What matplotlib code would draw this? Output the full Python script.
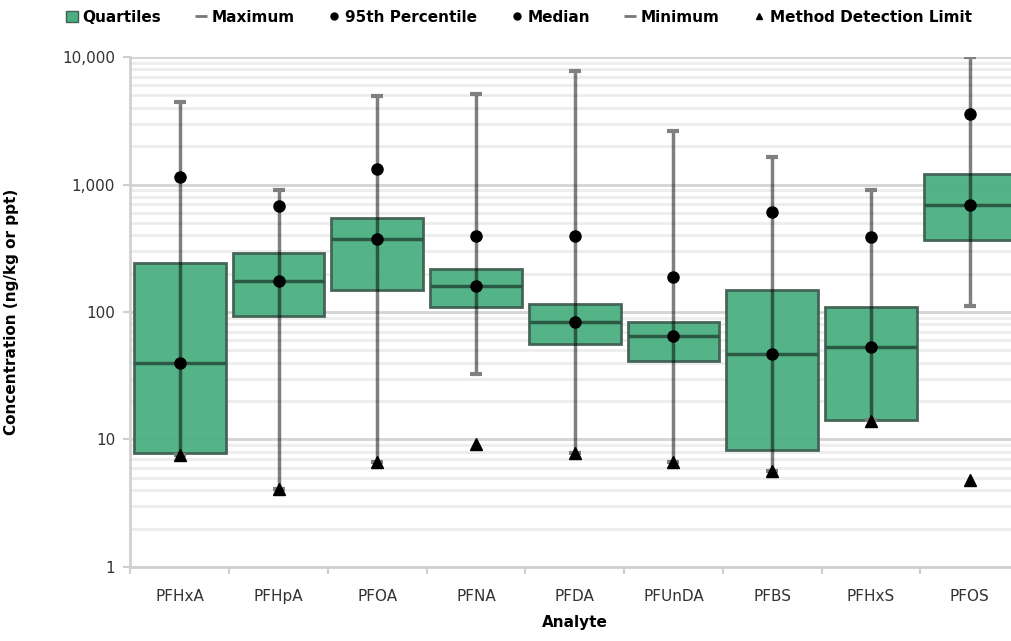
import matplotlib.pyplot as plt
from matplotlib.patches import Patch
from matplotlib.lines import Line2D
from matplotlib.ticker import FixedLocator, FuncFormatter, LogLocator, NullFormatter
import numpy as np

plt.rcParams['font.family'] = ['Liberation Sans Narrow', 'DejaVu Sans']

analytes = ['PFHxA', 'PFHpA', 'PFOA', 'PFNA', 'PFDA', 'PFUnDA', 'PFBS', 'PFHxS', 'PFOS']
maximum = [4440, 905, 4950, 5130, 7770, 2640, 1635, 905, 10000]
p95 = [1145, 682, 1316, 395, 395, 187, 605, 386, 3570]
q3 = [242, 292, 543, 216, 115, 84, 149, 109, 1202]
median = [39.6, 176, 371, 160, 83, 65, 46.9, 53.5, 690]
q1 = [7.8, 93, 149, 110, 56, 41.5, 8.3, 14.2, 367]
minimum = [7.6, 4.1, 6.6, 32.7, 7.8, 6.7, 5.7, 14.2, 111]
mdl = [7.6, 4.1, 6.6, 9.3, 7.8, 6.7, 5.7, 13.9, 4.8]

green = '#4caf82'
edge = '#3f5f52'

fig = plt.figure(figsize=(10.11, 6.41), dpi=100)
ax = fig.add_axes([0.129, 0.1155, 0.879, 0.7955])

x = np.arange(len(analytes))
q1a = np.array(q1)
q3a = np.array(q3)

# boxes
ax.bar(x, q3a - q1a, bottom=q1a, width=0.93, color=green, edgecolor=edge,
       linewidth=2, alpha=0.95, zorder=2)
ax.hlines(median, x - 0.465, x + 0.465, color='#2b5a44', linewidth=2.5, zorder=3)

# whiskers
ax.vlines(x, minimum, maximum, color='black', alpha=0.5, linewidth=2.5, zorder=4)
ax.plot(x, maximum, '_', color='#808080', markersize=9, mew=3, zorder=5)
ax.plot(x, minimum, '_', color='#808080', markersize=9, mew=3, zorder=5)

ax.plot(x, p95, 'o', color='black', markersize=8, zorder=6)
ax.plot(x, median, 'o', color='black', markersize=8, zorder=6)
ax.plot(x, mdl, '^', color='black', markersize=8, zorder=6)

ax.set_yscale('log')
ax.set_ylim(1, 10000)
ax.set_xlim(-0.5, len(analytes) - 0.5)

ax.yaxis.set_major_locator(FixedLocator([1, 10, 100, 1000, 10000]))
ax.yaxis.set_major_formatter(FuncFormatter(lambda v, p: '{:,.0f}'.format(v)))
ax.yaxis.set_minor_locator(LogLocator(base=10, subs=np.arange(2, 10)))
ax.yaxis.set_minor_formatter(NullFormatter())
ax.grid(axis='y', which='major', color='#d4d4d4', linewidth=2, zorder=0)
ax.grid(axis='y', which='minor', color='#ededed', linewidth=2, zorder=0)
ax.set_axisbelow(True)

ax.set_xticks(x)
ax.set_xticklabels(analytes, fontsize=11, color='#333333')
ax.set_xticks(np.arange(len(analytes) + 1) - 0.5, minor=True)
ax.tick_params(axis='x', which='major', length=0, pad=16)
ax.tick_params(axis='x', which='minor', length=5, color='#d0d0d0', width=1.5)
ax.tick_params(axis='y', which='major', length=5, color='#d0d0d0', width=1.5,
               labelsize=11, labelcolor='#333333', pad=6)
ax.tick_params(axis='y', which='minor', length=0)

for s in ['top', 'right']:
    ax.spines[s].set_visible(False)
for s in ['left', 'bottom']:
    ax.spines[s].set_color('#d0d0d0')
    ax.spines[s].set_linewidth(2)

ax.set_xlabel('Analyte', fontsize=11, fontweight='bold', labelpad=8)
ax.set_ylabel('Concentration (ng/kg or ppt)', fontsize=11, fontweight='bold')
ax.yaxis.set_label_coords(-0.125, 0.5)

handles = [
    Patch(facecolor=green, edgecolor=edge, label='Quartiles'),
    Line2D([], [], marker='_', color='#777777', linestyle='None', markersize=8, mew=2, label='Maximum'),
    Line2D([], [], marker='o', color='black', linestyle='None', markersize=5, label='95th Percentile'),
    Line2D([], [], marker='o', color='black', linestyle='None', markersize=5, label='Median'),
    Line2D([], [], marker='_', color='#777777', linestyle='None', markersize=8, mew=2, label='Minimum'),
    Line2D([], [], marker='^', color='black', linestyle='None', markersize=5, label='Method Detection Limit'),
]
fig.legend(handles=handles, loc='center', bbox_to_anchor=(0.513, 0.973), ncol=6,
           frameon=False, handlelength=0.8, handletextpad=0.3,
           columnspacing=2.2, prop={'weight': 'bold', 'size': 11})

fig.savefig('out.png', dpi=100)
